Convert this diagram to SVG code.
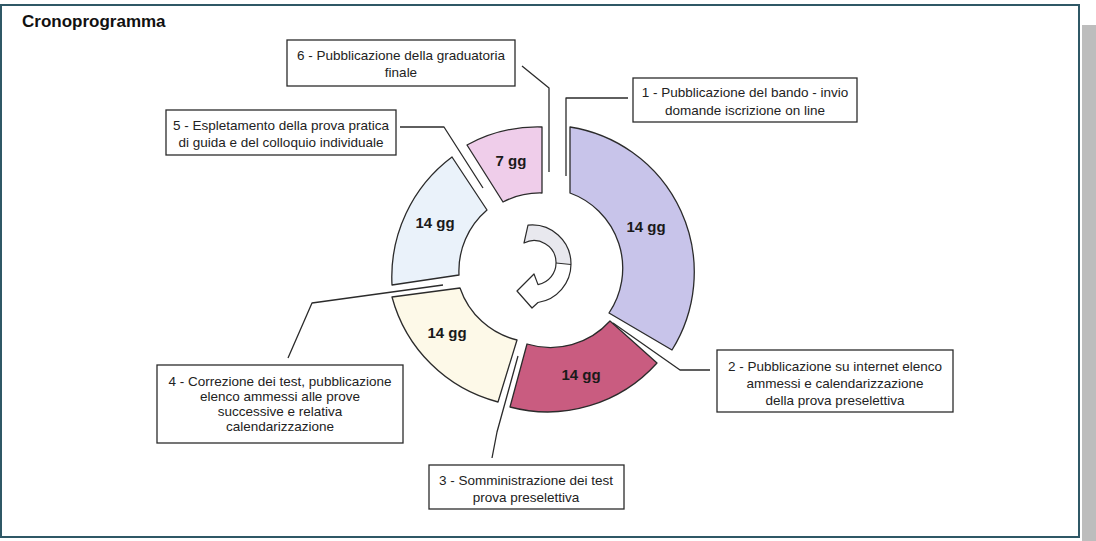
<svg xmlns="http://www.w3.org/2000/svg" width="1096" height="541" viewBox="0 0 1096 541">
  <style>
    .box { fill: #ffffff; stroke: #2b2b2b; stroke-width: 1.3; }
    .lbl { font-family: "Liberation Sans", Arial, sans-serif; font-size: 13.5px; fill: #222; text-anchor: middle; }
    .seg { stroke: #2b2b2b; stroke-width: 1.3; stroke-linejoin: round; }
    .dur { font-family: "Liberation Sans", Arial, sans-serif; font-size: 15px; font-weight: bold; fill: #1a1a1a; text-anchor: middle; }
    .conn { fill: none; stroke: #2b2b2b; stroke-width: 1.3; stroke-linejoin: round; }
  </style>
  <rect x="0" y="0" width="1096" height="541" fill="#ffffff"/>
  <rect x="1082" y="25" width="14" height="516" fill="#bdbdbd"/>
  <rect x="1" y="5" width="1078" height="532" fill="#ffffff" stroke="#2f5866" stroke-width="2"/>
  <text x="22" y="27" font-family="'Liberation Sans', Arial, sans-serif" font-size="17" font-weight="bold" fill="#111">Cronoprogramma</text>

  <g id="ring">
    <g id="seg-pink">
      <path class="seg" fill="#efcdea" d="M467,145 A147,147 0 0 1 542,127 L542,193 A80,80 0 0 0 503,202 Z"/>
      <text class="dur" x="511" y="166">7 gg</text>
    </g>
    <g id="seg-purple">
      <path class="seg" fill="#c8c4ea" d="M570,127 A147,147 0 0 1 672,350 L609,313 A80,80 0 0 0 570,193 Z"/>
      <text class="dur" x="646" y="232">14 gg</text>
    </g>
    <g id="seg-red">
      <path class="seg" fill="#c95c80" d="M657,363 A147,147 0 0 1 510,407 L527,344 A80,80 0 0 0 610,321 Z"/>
      <text class="dur" x="581" y="380">14 gg</text>
    </g>
    <g id="seg-cream">
      <path class="seg" fill="#fdf9e8" d="M498,402 A148,148 0 0 1 392,297 L460,288 A80,80 0 0 0 517,340 Z"/>
      <text class="dur" x="447" y="338">14 gg</text>
    </g>
    <g id="seg-blue">
      <path class="seg" fill="#eaf2fa" d="M392,285 A150,150 0 0 1 452,157 L487,210 A80,80 0 0 0 459,275 Z"/>
      <text class="dur" x="435" y="228">14 gg</text>
    </g>
  </g>

  <g id="cycle-arrow">
    <path fill="#e8e8ee" d="M528,225.2 A39,39 0 0 1 571,264 L556,263 A22,22 0 0 0 524,243 Z"/>
    <path fill="none" stroke="#2b2b2b" stroke-width="1.2" stroke-linejoin="round" d="M528,225.2 A39,39 0 0 1 571,264 A39,39 0 0 1 538,302.5 L532,308 L517,291 L534,274 L538,284.6 A22,22 0 0 0 556,262 A22,22 0 0 0 524,243 Z"/>
    <line x1="556" y1="263" x2="571" y2="264.5" stroke="#2b2b2b" stroke-width="1"/>
  </g>

  <g id="connectors">
    <polyline class="conn" points="522,66 549,88 549,172"/>
    <polyline class="conn" points="628,98 566,98 566,176"/>
    <polyline class="conn" points="400,127 444,127 483,188"/>
    <polyline class="conn" points="710,370 680,370 613,323"/>
    <polyline class="conn" points="492,458 497,432 518,356"/>
    <polyline class="conn" points="288,358 312,303 443,285"/>
  </g>

  <g id="node1">
    <rect class="box" x="633" y="78" width="224" height="44"/>
    <text class="lbl" x="745" y="97">1 - Pubblicazione del bando - invio</text>
    <text class="lbl" x="745" y="115">domande iscrizione on line</text>
  </g>
  <g id="node2">
    <rect class="box" x="717" y="350" width="236" height="62"/>
    <text class="lbl" x="835" y="371">2 - Pubblicazione su internet elenco</text>
    <text class="lbl" x="835" y="388">ammessi e calendarizzazione</text>
    <text class="lbl" x="835" y="405">della prova preselettiva</text>
  </g>
  <g id="node3">
    <rect class="box" x="429" y="465" width="195" height="44"/>
    <text class="lbl" x="526" y="485">3 - Somministrazione dei test</text>
    <text class="lbl" x="526" y="502">prova preselettiva</text>
  </g>
  <g id="node4">
    <rect class="box" x="157" y="365" width="246" height="78"/>
    <text class="lbl" x="280" y="386">4 - Correzione dei test, pubblicazione</text>
    <text class="lbl" x="280" y="401">elenco ammessi alle prove</text>
    <text class="lbl" x="280" y="416">successive e relativa</text>
    <text class="lbl" x="280" y="431">calendarizzazione</text>
  </g>
  <g id="node5">
    <rect class="box" x="166" y="110" width="230" height="45"/>
    <text class="lbl" x="281" y="130">5 - Espletamento della prova pratica</text>
    <text class="lbl" x="281" y="147">di guida e del colloquio individuale</text>
  </g>
  <g id="node6">
    <rect class="box" x="287" y="40" width="228" height="46"/>
    <text class="lbl" x="401" y="60">6 - Pubblicazione della graduatoria</text>
    <text class="lbl" x="401" y="77">finale</text>
  </g>
</svg>
